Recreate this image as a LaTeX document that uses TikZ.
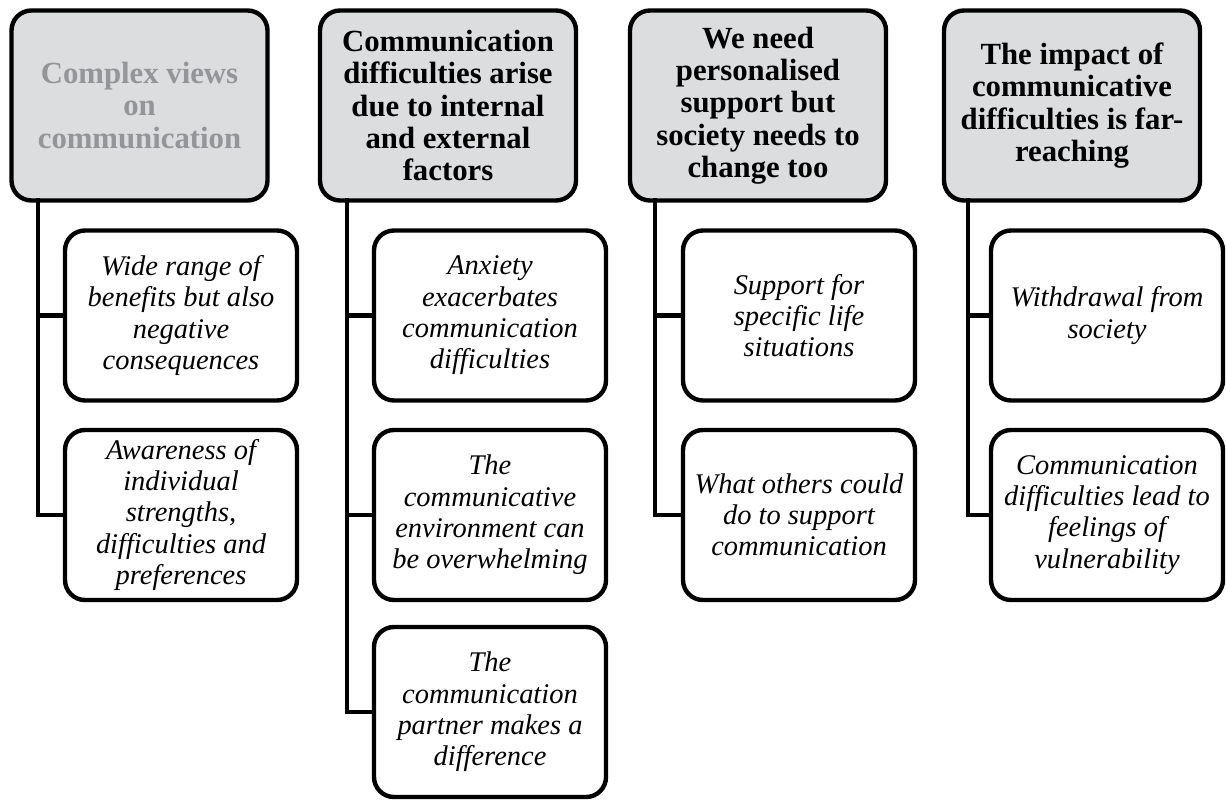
\documentclass[tikz,border=0pt]{standalone}
\usepackage{fontspec}
\setmainfont{Liberation Serif}
\usepackage{tikz}
\definecolor{headgray}{HTML}{DCDDDF}
\definecolor{fadedtext}{HTML}{939598}

\begin{document}
\begin{tikzpicture}[every node/.style={inner sep=2,outer sep=0},
	theme/.style={draw, line width=2.5pt, rounded corners=0.4cm, fill=headgray, align=center,
		minimum width=5.12cm, minimum height=3.8cm, font=\bfseries\fontsize{17.5}{18.4}\selectfont},
	subtheme/.style={draw, line width=2.5pt, rounded corners=0.4cm, fill=white, align=center,
		minimum width=4.64cm, minimum height=3.4cm, font=\itshape\fontsize{16.2}{17.8}\selectfont},
	link/.style={line width=2.6pt, line cap=rect}]
	\useasboundingbox (0,0) rectangle (24.52,-16);
	% headers
	\node[theme, text=fadedtext] (h1) at (2.79,-2.11) {Complex views\\on\\communication};
	\node[theme] (h2) at (8.96,-2.11) {Communication\\difficulties arise\\due to internal\\and external\\factors};
	\node[theme] (h3) at (15.16,-2.11) {We need\\personalised\\support but\\society needs to\\change too};
	\node[theme] (h4) at (21.44,-2.11) {The impact of\\communicative\\difficulties is far-\\reaching};
	% trunks
	\coordinate (t1) at (0.76,-2.11);
	\coordinate (t2) at (6.94,-2.11);
	\coordinate (t3) at (13.10,-2.11);
	\coordinate (t4) at (19.36,-2.11);
	% column 1
	\node[subtheme] (c1a) at (3.62,-6.31) {Wide range of\\benefits but also\\negative\\consequences};
	\node[subtheme] (c1b) at (3.62,-10.30) {Awareness of\\individual\\strengths,\\difficulties and\\preferences};
	\draw[link] (h1.south -| t1) |- (c1b.west);
	\draw[link] (c1a.west -| t1) -- (c1a.west);
	% column 2
	\node[subtheme] (c2a) at (9.80,-6.31) {Anxiety\\exacerbates\\communication\\difficulties};
	\node[subtheme] (c2b) at (9.80,-10.30) {The\\communicative\\environment can\\be overwhelming};
	\node[subtheme] (c2c) at (9.80,-14.24) {The\\communication\\partner makes a\\difference};
	\draw[link] (h2.south -| t2) |- (c2c.west);
	\draw[link] (c2a.west -| t2) -- (c2a.west);
	\draw[link] (c2b.west -| t2) -- (c2b.west);
	% column 3
	\node[subtheme] (c3a) at (15.98,-6.31) {Support for\\specific life\\situations};
	\node[subtheme] (c3b) at (15.98,-10.30) {What others could\\do to support\\communication};
	\draw[link] (h3.south -| t3) |- (c3b.west);
	\draw[link] (c3a.west -| t3) -- (c3a.west);
	% column 4
	\node[subtheme] (c4a) at (22.14,-6.31) {Withdrawal from\\society};
	\node[subtheme] (c4b) at (22.14,-10.30) {Communication\\difficulties lead to\\feelings of\\vulnerability};
	\draw[link] (h4.south -| t4) |- (c4b.west);
	\draw[link] (c4a.west -| t4) -- (c4a.west);
\end{tikzpicture}
\end{document}
